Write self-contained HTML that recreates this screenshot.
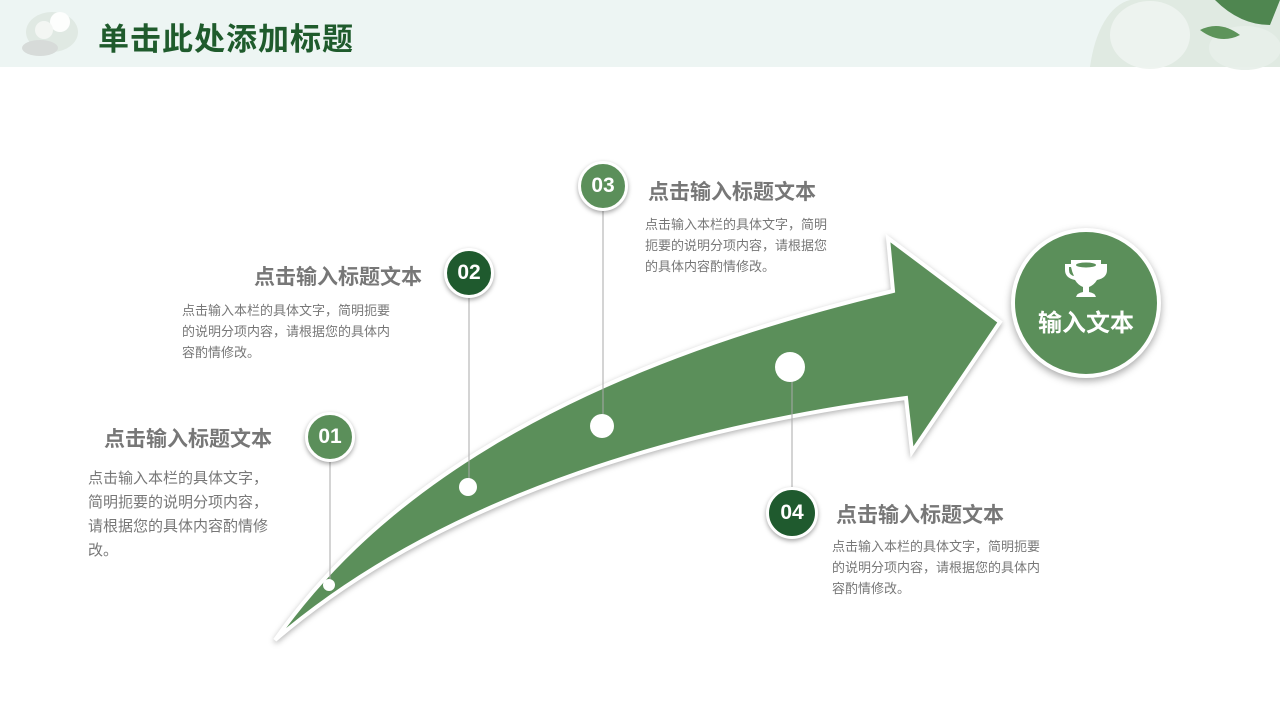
<!DOCTYPE html>
<html><head><meta charset="utf-8"><style>
body{margin:0;width:1280px;height:720px;overflow:hidden;background:#fff;font-family:"Liberation Sans","Noto Sans CJK SC",sans-serif;position:relative}
.hdr{position:absolute;left:0;top:0;width:1280px;height:67px;background:#edf5f3}
.t{position:absolute;left:98px;top:20px;font-size:31px;font-weight:bold;color:#1f5b2c;letter-spacing:1px;line-height:40px}
.h{position:absolute;font-size:21px;font-weight:bold;color:#777;line-height:28px;white-space:nowrap}
.b{position:absolute;font-size:13px;color:#777;line-height:21px}
.c{position:absolute;border-radius:50%;border:3px solid #fff;box-shadow:0 2px 5px rgba(0,0,0,.35);color:#fff;font-weight:bold;font-size:21px;text-align:center;box-sizing:border-box}
</style></head><body>
<div class="hdr"></div>
<svg style="position:absolute;left:0;top:0" width="1280" height="720">
<g opacity=".9">
<ellipse cx="52" cy="32" rx="26" ry="20" fill="#dfe8e2"/>
<circle cx="60" cy="22" r="10" fill="#fff"/><circle cx="44" cy="30" r="9" fill="#f4f7f4"/>
<ellipse cx="40" cy="48" rx="18" ry="8" fill="#d5d9d7"/>
<path d="M1090 67 C1095 30 1110 5 1130 0 L1280 0 L1280 67Z" fill="#dfe9e1"/>
<ellipse cx="1150" cy="35" rx="40" ry="34" fill="#eef3ef"/>
<ellipse cx="1245" cy="48" rx="36" ry="22" fill="#e7efe9"/>
<path d="M1215 0 L1280 0 L1270 25 Q1240 25 1215 0Z" fill="#3f7a3f"/>
<path d="M1200 30 Q1220 20 1240 35 Q1220 45 1200 30Z" fill="#4e8a4a"/>
</g>
<path d="M275 640 C360 520 520 380 893 291 L888 238 L1000 322 L912 452 L906 398 C700 425 450 490 275 640Z" fill="#5b8f5a" stroke="#fff" stroke-width="4" style="filter:drop-shadow(0 2px 3px rgba(0,0,0,.3))"/>
<g stroke="#aaa" stroke-width="1">
<line x1="330" y1="461" x2="330" y2="585"/><line x1="469" y1="297" x2="469" y2="487"/>
<line x1="603" y1="210" x2="603" y2="426"/><line x1="792" y1="367" x2="792" y2="488"/>
</g>
<g fill="#fff"><circle cx="329" cy="585" r="6"/><circle cx="468" cy="487" r="9"/><circle cx="602" cy="426" r="12"/><circle cx="790" cy="367" r="15"/></g>
</svg>
<div class="t">单击此处添加标题</div>
<div class="c" style="left:305px;top:412px;width:50px;height:50px;line-height:44px;background:#5b8f5a">01</div>
<div class="c" style="left:444px;top:248px;width:50px;height:50px;line-height:44px;background:#1f5a2e">02</div>
<div class="c" style="left:578px;top:161px;width:50px;height:50px;line-height:44px;background:#5b8f5a">03</div>
<div class="c" style="left:766px;top:487px;width:52px;height:52px;line-height:46px;background:#1f5a2e">04</div>
<div class="h" style="left:104px;top:426px">点击输入标题文本</div>
<div class="b" style="left:88px;top:467px;width:182px;font-size:15px;line-height:24px">点击输入本栏的具体文字，简明扼要的说明分项内容，请根据您的具体内容酌情修改。</div>
<div class="h" style="left:254px;top:264px">点击输入标题文本</div>
<div class="b" style="left:182px;top:300px;width:211px">点击输入本栏的具体文字，简明扼要的说明分项内容，请根据您的具体内容酌情修改。</div>
<div class="h" style="left:648px;top:179px">点击输入标题文本</div>
<div class="b" style="left:645px;top:214px;width:185px">点击输入本栏的具体文字，简明扼要的说明分项内容，请根据您的具体内容酌情修改。</div>
<div class="h" style="left:836px;top:502px">点击输入标题文本</div>
<div class="b" style="left:832px;top:536px;width:211px">点击输入本栏的具体文字，简明扼要的说明分项内容，请根据您的具体内容酌情修改。</div>
<div class="c" style="left:1011px;top:228px;width:150px;height:150px;border-width:4px;background:#5b8f5a;box-shadow:0 3px 8px rgba(0,0,0,.35)">
<svg width="50" height="50" style="position:absolute;left:46px;top:20px" viewBox="0 0 50 50"><path d="M10 8 H40 V12 H46 V18 Q46 26 36 28 Q33 33 28 35 V40 Q34 41 35 45 H15 Q16 41 22 40 V35 Q17 33 14 28 Q4 26 4 18 V12 H10Z M8 15 V18 Q8 23 13 24 Q11 20 10 15Z M42 15 V18 Q42 23 37 24 Q39 20 40 15Z" fill="#fff"/><ellipse cx="25" cy="13" rx="10" ry="2.5" fill="#5b8f5a"/></svg>
<div style="position:absolute;left:0;width:142px;top:76px;font-size:24px;line-height:32px">输入文本</div></div>
</body></html>
